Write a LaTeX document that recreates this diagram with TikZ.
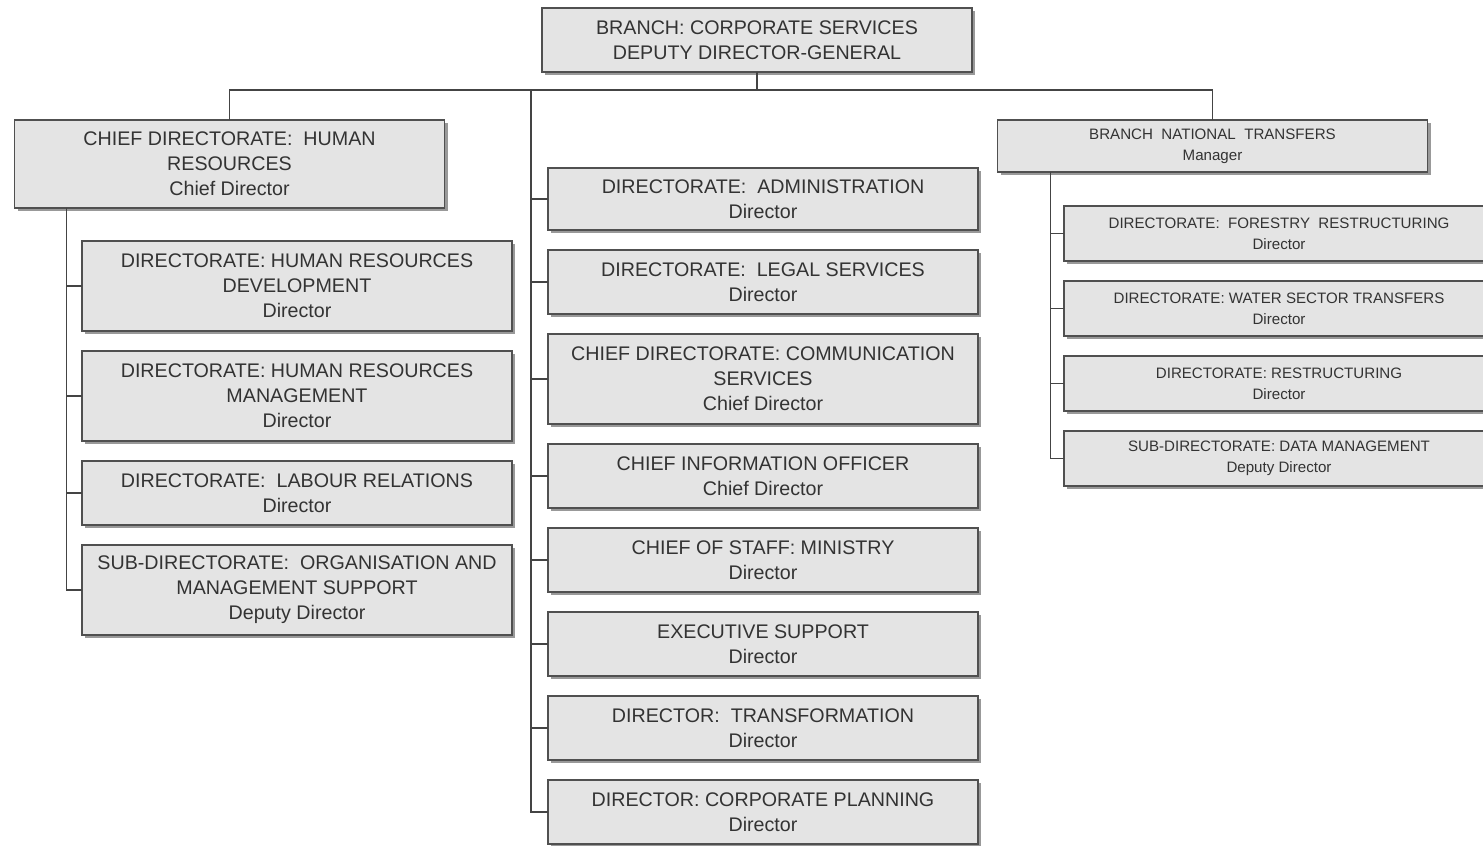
\documentclass[tikz,border=0pt]{standalone}
\usepackage{fontspec}
\setmainfont{Liberation Sans}
\usetikzlibrary{calc}
\usetikzlibrary{positioning}
\usetikzlibrary{shadows}
\definecolor{boxfill}{HTML}{E4E4E4}
\definecolor{boxline}{HTML}{505050}
\definecolor{inkgray}{HTML}{333333}
\definecolor{wiregray}{HTML}{444444}

\begin{document}
\begin{tikzpicture}[x=0.02cm,y=-0.02cm,node distance=0.4cm,
		unit/.style={draw=boxline,fill=boxfill,line width=0.8pt,text=inkgray,align=center,
			minimum width=8.6cm,inner sep=2pt,outer sep=0pt,
			drop shadow={shadow xshift=1.8pt,shadow yshift=-1.8pt,fill=black!40,opacity=1},
			font=\fontsize{11.2}{14.2}\selectfont},
		twoline/.style={unit,minimum height=1.28cm},
		threeline/.style={unit,minimum height=1.8cm},
		smallunit/.style={unit,minimum height=1.1cm,font=\fontsize{8.6}{11.9}\selectfont},
		wire/.style={draw=wiregray,line width=0.85pt}]
		\useasboundingbox (0,0) rectangle (1483,845);

		\node [twoline] (branch) at (757,40) {BRANCH: CORPORATE SERVICES\\DEPUTY DIRECTOR-GENERAL};
		\node [threeline,minimum height=1.76cm] (hrchief) at (229.5,164) {CHIEF DIRECTORATE:~ HUMAN\\RESOURCES\\Chief Director};
		\node [smallunit,minimum height=1.04cm] (transfers) at (1212.5,146) {BRANCH~ NATIONAL~ TRANSFERS\\Manager};

		% middle column
		\node [twoline,minimum height=1.24cm,anchor=north] (admin) at (763,168) {DIRECTORATE:~ ADMINISTRATION\\Director};
		\node [twoline,below=of admin] (legal) {DIRECTORATE:~ LEGAL SERVICES\\Director};
		\node [threeline,below=of legal] (comms) {CHIEF DIRECTORATE: COMMUNICATION\\SERVICES\\Chief Director};
		\node [twoline,below=of comms] (cio) {CHIEF INFORMATION OFFICER\\Chief Director};
		\node [twoline,below=of cio] (staff) {CHIEF OF STAFF: MINISTRY\\Director};
		\node [twoline,below=of staff] (exec) {EXECUTIVE SUPPORT\\Director};
		\node [twoline,below=of exec] (transform) {DIRECTOR:~ TRANSFORMATION\\Director};
		\node [twoline,below=of transform] (planning) {DIRECTOR: CORPORATE PLANNING\\Director};

		% left column
		\node [threeline,anchor=north] (hrdev) at (297,241) {DIRECTORATE: HUMAN RESOURCES\\DEVELOPMENT\\Director};
		\node [threeline,below=of hrdev] (hrman) {DIRECTORATE: HUMAN RESOURCES\\MANAGEMENT\\Director};
		\node [twoline,below=of hrman] (labour) {DIRECTORATE:~ LABOUR RELATIONS\\Director};
		\node [threeline,below=of labour] (orgsup) {SUB-DIRECTORATE:~ ORGANISATION AND\\MANAGEMENT SUPPORT\\Deputy Director};

		% right column
		\node [smallunit,anchor=north] (forestry) at (1279,206) {DIRECTORATE:~ FORESTRY~ RESTRUCTURING\\Director};
		\node [smallunit,below=of forestry] (water) {DIRECTORATE: WATER SECTOR TRANSFERS\\Director};
		\node [smallunit,below=of water] (restruct) {DIRECTORATE: RESTRUCTURING\\Director};
		\node [smallunit,below=of restruct] (datamgmt) {SUB-DIRECTORATE: DATA MANAGEMENT\\Deputy Director};

		\coordinate (bus) at (757,90);
		\coordinate (midtrunk) at (531,90);
		\coordinate (hrtrunk) at ($(hrchief.south west)+(52,0)$);
		\coordinate (nttrunk) at ($(transfers.south west)+(53,0)$);

		\draw [wire] (branch.south) -- (bus);
		\draw [wire] (bus) -| (hrchief.north);
		\draw [wire] (bus) -| (transfers.north);

		\draw [wire] (midtrunk) |- (planning.west);
		\foreach \n in {admin,legal,comms,cio,staff,exec,transform}
			\draw [wire] (midtrunk |- \n.west) -- (\n.west);

		\draw [wire] (hrtrunk) |- (orgsup.west);
		\foreach \n in {hrdev,hrman,labour}
			\draw [wire] (hrtrunk |- \n.west) -- (\n.west);

		\draw [wire] (nttrunk) |- (datamgmt.west);
		\foreach \n in {forestry,water,restruct}
			\draw [wire] (nttrunk |- \n.west) -- (\n.west);
	\end{tikzpicture}
\end{document}
